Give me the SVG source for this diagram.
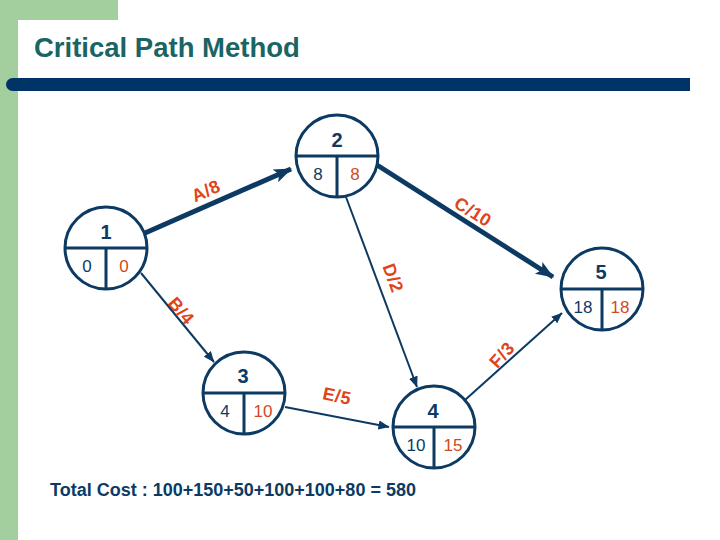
<svg xmlns="http://www.w3.org/2000/svg" width="720" height="540" viewBox="0 0 720 540">
<defs>
<style>
.node circle{fill:#fff;stroke:#0d3a63;stroke-width:3}
.node line{stroke:#0d3a63;stroke-width:3}
.num{font-family:"Liberation Sans",Arial,sans-serif;font-weight:bold;font-size:20px;fill:#0d3a63;text-anchor:middle}
.es{font-family:"Liberation Sans",Arial,sans-serif;font-size:17px;fill:#0d3a63;text-anchor:middle}
.lf{font-family:"Liberation Sans",Arial,sans-serif;font-size:17px;fill:#d04a20;text-anchor:middle}
.lbl{font-family:"Liberation Sans",Arial,sans-serif;font-weight:bold;font-size:18px;fill:#e0441a;text-anchor:middle;letter-spacing:0.5px}
.thick{stroke:#0d3a63;stroke-width:5;fill:none}
.thin{stroke:#0d3a63;stroke-width:2;fill:none}
</style>
<marker id="ah" markerUnits="userSpaceOnUse" markerWidth="18" markerHeight="16" viewBox="0 0 18 16" refX="17" refY="8" orient="auto">
<path d="M0,1 L18,8 L0,15 L4,8 Z" fill="#0d3a63"/>
</marker>
<marker id="as" markerUnits="userSpaceOnUse" markerWidth="11" markerHeight="10" viewBox="0 0 11 10" refX="10.5" refY="5" orient="auto">
<path d="M0,0.5 L11,5 L0,9.5 Z" fill="#0d3a63"/>
</marker>
</defs>
<rect width="720" height="540" fill="#fff"/>
<g id="background">
<rect x="0" y="0" width="118" height="20" fill="#a3cf9f"/>
<rect x="0" y="0" width="18" height="540" fill="#a3cf9f"/>
<rect x="18" y="20" width="740" height="560" rx="12" fill="#fff"/>
<path d="M12.5,78 H690 V91 H12.5 A6.5,6.5 0 0 1 12.5,78 Z" fill="#003366"/>
<text x="34" y="57" font-family="'Liberation Sans',Arial,sans-serif" font-weight="bold" font-size="27.5" fill="#1b6464">Critical Path Method</text>
</g>
<g id="connectors">
<line class="thick" x1="145" y1="233" x2="291" y2="169" marker-end="url(#ah)"/>
<line class="thick" x1="377" y1="165" x2="553" y2="277" marker-end="url(#ah)"/>
<line class="thin" x1="141" y1="273" x2="214" y2="362" marker-end="url(#as)"/>
<line class="thin" x1="346" y1="197" x2="417" y2="387" marker-end="url(#as)"/>
<line class="thin" x1="285" y1="407" x2="389" y2="427" marker-end="url(#as)"/>
<line class="thin" x1="465" y1="400" x2="562" y2="313" marker-end="url(#as)"/>
<text class="lbl" transform="translate(206,191) rotate(-24)" y="6">A/8</text>
<text class="lbl" transform="translate(473,212) rotate(32)" y="6">C/10</text>
<text class="lbl" transform="translate(181,311) rotate(50)" y="6">B/4</text>
<text class="lbl" transform="translate(393,278) rotate(70)" y="6" font-size="17">D/2</text>
<text class="lbl" transform="translate(337,396) rotate(12)" y="6">E/5</text>
<text class="lbl" transform="translate(502,355) rotate(-48)" y="6">F/3</text>
</g>
<g id="node1" class="node">
<circle cx="106" cy="248" r="41"/>
<line x1="65" y1="248" x2="147" y2="248"/>
<line x1="106" y1="248" x2="106" y2="289"/>
<text class="num" x="106" y="239">1</text>
<text class="es" x="87" y="272">0</text>
<text class="lf" x="124" y="272">0</text>
</g>
<g id="node2" class="node">
<circle cx="337" cy="156" r="41"/>
<line x1="296" y1="156" x2="378" y2="156"/>
<line x1="337" y1="156" x2="337" y2="197"/>
<text class="num" x="337" y="147">2</text>
<text class="es" x="318" y="180">8</text>
<text class="lf" x="355" y="180">8</text>
</g>
<g id="node3" class="node">
<circle cx="244" cy="393" r="41"/>
<line x1="203" y1="393" x2="285" y2="393"/>
<line x1="244" y1="393" x2="244" y2="434"/>
<text class="num" x="243" y="383">3</text>
<text class="es" x="225" y="417">4</text>
<text class="lf" x="263" y="417">10</text>
</g>
<g id="node4" class="node">
<circle cx="434" cy="427" r="41"/>
<line x1="393" y1="427" x2="475" y2="427"/>
<line x1="434" y1="427" x2="434" y2="468"/>
<text class="num" x="433" y="418">4</text>
<text class="es" x="416" y="451">10</text>
<text class="lf" x="453" y="451">15</text>
</g>
<g id="node5" class="node">
<circle cx="602" cy="289" r="41"/>
<line x1="561" y1="289" x2="643" y2="289"/>
<line x1="602" y1="289" x2="602" y2="330"/>
<text class="num" x="601" y="279">5</text>
<text class="es" x="583" y="313">18</text>
<text class="lf" x="620" y="313">18</text>
</g>
<text x="50" y="496" font-family="'Liberation Sans',Arial,sans-serif" font-weight="bold" font-size="18" fill="#0d3a63">Total Cost : 100+150+50+100+100+80 = 580</text>
</svg>
